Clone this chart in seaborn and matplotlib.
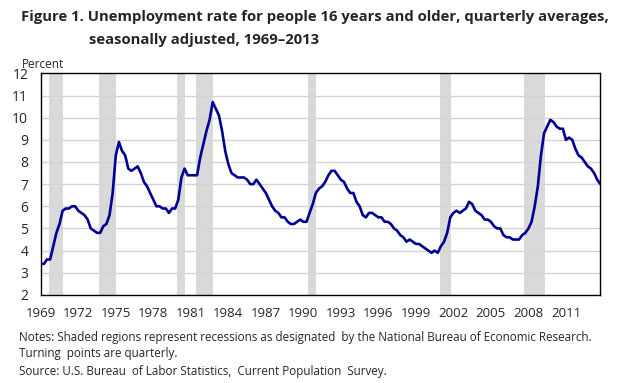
import pandas as pd
import seaborn as sns
import matplotlib.pyplot as plt

# Quarterly averages, seasonally adjusted, 1969Q1 - 2013Q4
rate = [
    3.4, 3.4, 3.6, 3.6,    # 1969
    4.2, 4.8, 5.2, 5.8,    # 1970
    5.9, 5.9, 6.0, 6.0,    # 1971
    5.8, 5.7, 5.6, 5.4,    # 1972
    5.0, 4.9, 4.8, 4.8,    # 1973
    5.1, 5.2, 5.6, 6.6,    # 1974
    8.3, 8.9, 8.5, 8.3,    # 1975
    7.7, 7.6, 7.7, 7.8,    # 1976
    7.5, 7.1, 6.9, 6.6,    # 1977
    6.3, 6.0, 6.0, 5.9,    # 1978
    5.9, 5.7, 5.9, 5.9,    # 1979
    6.3, 7.3, 7.7, 7.4,    # 1980
    7.4, 7.4, 7.4, 8.2,    # 1981
    8.8, 9.4, 9.9, 10.7,   # 1982
    10.4, 10.1, 9.4, 8.5,  # 1983
    7.9, 7.5, 7.4, 7.3,    # 1984
    7.3, 7.3, 7.2, 7.0,    # 1985
    7.0, 7.2, 7.0, 6.8,    # 1986
    6.6, 6.3, 6.0, 5.8,    # 1987
    5.7, 5.5, 5.5, 5.3,    # 1988
    5.2, 5.2, 5.3, 5.4,    # 1989
    5.3, 5.3, 5.7, 6.1,    # 1990
    6.6, 6.8, 6.9, 7.1,    # 1991
    7.4, 7.6, 7.6, 7.4,    # 1992
    7.2, 7.1, 6.8, 6.6,    # 1993
    6.6, 6.2, 6.0, 5.6,    # 1994
    5.5, 5.7, 5.7, 5.6,    # 1995
    5.5, 5.5, 5.3, 5.3,    # 1996
    5.2, 5.0, 4.9, 4.7,    # 1997
    4.6, 4.4, 4.5, 4.4,    # 1998
    4.3, 4.3, 4.2, 4.1,    # 1999
    4.0, 3.9, 4.0, 3.9,    # 2000
    4.2, 4.4, 4.8, 5.5,    # 2001
    5.7, 5.8, 5.7, 5.8,    # 2002
    5.9, 6.2, 6.1, 5.8,    # 2003
    5.7, 5.6, 5.4, 5.4,    # 2004
    5.3, 5.1, 5.0, 5.0,    # 2005
    4.7, 4.6, 4.6, 4.5,    # 2006
    4.5, 4.5, 4.7, 4.8,    # 2007
    5.0, 5.3, 6.0, 6.9,    # 2008
    8.3, 9.3, 9.6, 9.9,    # 2009
    9.8, 9.6, 9.5, 9.5,    # 2010
    9.0, 9.1, 9.0, 8.6,    # 2011
    8.3, 8.2, 8.0, 7.8,    # 2012
    7.7, 7.5, 7.2, 7.0,    # 2013
]

# NBER recessions, peak quarter -> trough quarter
recessions = [
    ("1969Q4", "1970Q4"),
    ("1973Q4", "1975Q1"),
    ("1980Q1", "1980Q3"),
    ("1981Q3", "1982Q4"),
    ("1990Q3", "1991Q1"),
    ("2001Q1", "2001Q4"),
    ("2007Q4", "2009Q2"),
]

label_years = list(range(1969, 2012, 3))

title_1 = "Figure 1. Unemployment rate for people 16 years and older, quarterly averages,"
title_2 = "seasonally adjusted, 1969\u20132013"
notes = [
    "Notes: Shaded regions represent recessions as designated  by the National Bureau of Economic Research.",
    "Turning  points are quarterly.",
    "Source: U.S. Bureau  of Labor Statistics,  Current Population  Survey.",
]


def qpos(p):
    p = pd.Period(p, freq="Q")
    return p.year + (p.quarter - 1) / 4


quarters = pd.period_range("1969Q1", "2013Q4", freq="Q")
df = pd.DataFrame({"t": [q.year + (q.quarter - 1) / 4 for q in quarters], "rate": rate})

sns.set_style("white")
plt.rcParams["font.family"] = ["Open Sans", "DejaVu Sans"]

fig = plt.figure(figsize=(6.27, 3.83), dpi=100)
ax = fig.add_axes([0.065, 0.23, 0.8925, 0.5785])

# recession bands, a touch wider than the quarter bounds like the original
for start, end in recessions:
    ax.axvspan(qpos(start) - 0.1, qpos(end) + 0.05, color="#d9d9d9", lw=0, zorder=0)

for yv in range(3, 12):
    ax.axhline(yv, color="#d4d4d4", lw=1, zorder=0.5)

sns.lineplot(data=df, x="t", y="rate", color="#000096", lw=1.9, ax=ax, zorder=3)

ax.set_xlim(1969, 2013.75)
ax.set_ylim(2, 12)
ax.set_xticks(range(1969, 2014))
ax.set_xticklabels([str(y) if y in label_years else "" for y in range(1969, 2014)])
ax.set_yticks(range(2, 13))
ax.tick_params(axis="x", direction="in", length=4, width=0.8, color="black",
               labelsize=9.5, pad=9)
ax.tick_params(axis="y", length=0, labelsize=10, pad=9)
ax.set_xlabel("")
ax.set_ylabel("")
for s in ax.spines.values():
    s.set_color("black")
    s.set_linewidth(1)

fig.text(0.035, 0.815, "Percent", fontsize=8.5, ha="left", va="bottom")
fig.text(0.033, 0.956, title_1, fontsize=10.7, fontweight="bold", ha="left", va="center")
fig.text(0.142, 0.896, title_2, fontsize=10.7, fontweight="bold", ha="left", va="center")
for y, line in zip([0.12, 0.078, 0.029], notes):
    fig.text(0.03, y, line, fontsize=8.4, ha="left", va="center")

fig.savefig("out.png", dpi=100)
